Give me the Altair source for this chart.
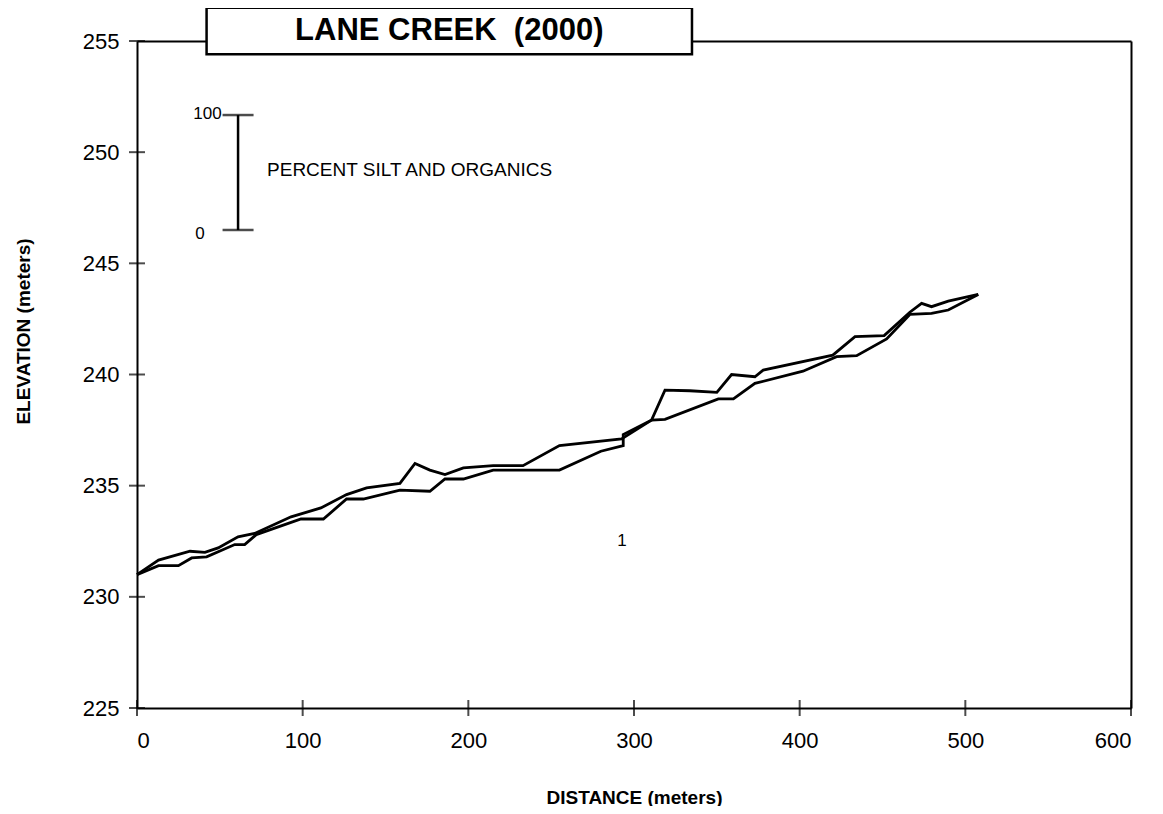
import altair as alt
import pandas as pd

# ---- data ----
upper_x = [0, 13, 32, 41, 49, 61, 71, 93, 111, 126.5, 138.6, 158.7, 167.8, 176.8, 185.9, 197, 215, 233, 255,
           292.5, 310.6, 318.7, 333.7, 350, 358.9, 373, 378, 420, 433.4, 451, 466.5, 473.6, 479.6, 489.7, 507.8]
upper_y = [231.0, 231.65, 232.05, 232.0, 232.2, 232.7, 232.85, 233.6, 234.0, 234.6, 234.9, 235.1, 236.0, 235.7,
           235.5, 235.8, 235.9, 235.9, 236.8, 237.1, 237.95, 239.3, 239.27, 239.2, 240.0, 239.9, 240.2, 240.87,
           241.7, 241.75, 242.8, 243.2, 243.05, 243.3, 243.6]
lower_x = [0, 13, 25, 33, 42, 59, 65, 72, 99, 112.5, 126.5, 136.6, 158.7, 176.8, 185.9, 197, 215, 231, 255, 280,
           293.5, 293.5, 310.6, 318.7, 350.9, 360, 373, 402, 422.3, 434.4, 452.5, 466.5, 479.6, 489.7, 507.8]
lower_y = [231.0, 231.4, 231.4, 231.75, 231.8, 232.35, 232.35, 232.8, 233.5, 233.5, 234.4, 234.4, 234.8, 234.75,
           235.3, 235.3, 235.7, 235.7, 235.7, 236.55, 236.8, 237.3, 237.95, 237.98, 238.9, 238.9, 239.6, 240.15,
           240.8, 240.85, 241.6, 242.7, 242.75, 242.9, 243.6]

x_ticks = [0, 100, 200, 300, 400, 500, 600]
y_ticks = [225, 230, 235, 240, 245, 250, 255]

title_text = "LANE CREEK\u00a0\u00a0(2000)"
title_box_x = [42, 335]
title_box_y = [254.4, 256.5]
title_pos = [188.5, 255.45]

bar_x = 61
bar_y = [246.5, 251.67]
bar_labels = ["0", "100"]
bar_label_x = [38, 42.5]
bar_label_y = [246.3, 251.7]
bar_text = "PERCENT SILT AND ORGANICS"
bar_text_pos = [78.5, 249.2]
note_text = "1"
note_pos = [292.7, 232.5]

FONT = "Liberation Sans"
W, H = 994, 667

rows = []
for i, (x, y) in enumerate(zip(upper_x, upper_y)):
    rows.append({"series": "A", "order": i, "dist": x, "elev": y})
for i, (x, y) in enumerate(zip(lower_x, lower_y)):
    rows.append({"series": "B", "order": i, "dist": x, "elev": y})
df = pd.DataFrame(rows)

xs = alt.Scale(domain=[0, 600], nice=False, zero=False)
ys = alt.Scale(domain=[225, 255], nice=False, zero=False)

x_axis = alt.Axis(values=x_ticks, title="DISTANCE (meters)", domain=True, domainColor="black", domainWidth=2,
                  ticks=False, tickSize=0, grid=False, labelFont=FONT, labelFontSize=22, labelColor="black",
                  labelPadding=22, titleFont=FONT, titleFontSize=19, titleFontWeight="bold", titleColor="black",
                  titleY=80)
y_axis = alt.Axis(values=y_ticks, title="ELEVATION (meters)", domain=True, domainColor="black", domainWidth=2,
                  ticks=False, tickSize=0, grid=False, labelFont=FONT, labelFontSize=22, labelColor="black",
                  labelPadding=18, titleFont=FONT, titleFontSize=19, titleFontWeight="bold", titleColor="black",
                  titleX=-114, titleY=290, titleBaseline="middle")

lines = alt.Chart(df).mark_line(color="black", strokeWidth=2.8, clip=False).encode(
    x=alt.X("dist:Q", scale=xs, axis=x_axis),
    y=alt.Y("elev:Q", scale=ys, axis=y_axis),
    detail="series:N",
    order="order:Q",
)

frame_axis_x = alt.Axis(orient="top", domain=True, domainColor="black", domainWidth=2, ticks=False, labels=False,
                        grid=False, title=None)
frame_axis_y = alt.Axis(orient="right", domain=True, domainColor="black", domainWidth=2, ticks=False,
                        labels=False, grid=False, title=None)

ytick_df = pd.DataFrame({"dist": [x_ticks[0]] * len(y_ticks), "elev": y_ticks})
xtick_df = pd.DataFrame({"dist": x_ticks, "elev": [y_ticks[0]] * len(x_ticks)})

yticks = alt.Chart(ytick_df).mark_tick(orient="horizontal", size=16, thickness=2, color="black", clip=False).encode(
    x=alt.X("dist:Q", scale=xs, axis=frame_axis_x),
    y=alt.Y("elev:Q", scale=ys, axis=frame_axis_y),
)
xticks = alt.Chart(xtick_df).mark_tick(orient="vertical", size=16, thickness=2, color="black", clip=False).encode(
    x=alt.X("dist:Q", scale=xs, axis=None),
    y=alt.Y("elev:Q", scale=ys, axis=None),
)

box_df = pd.DataFrame({"x1": [title_box_x[0]], "x2": [title_box_x[1]], "y1": [title_box_y[0]], "y2": [title_box_y[1]]})
box = alt.Chart(box_df).mark_rect(fill="white", stroke="black", strokeWidth=2.5, clip=False).encode(
    x=alt.X("x1:Q", scale=xs, axis=None), x2="x2:Q", y=alt.Y("y1:Q", scale=ys, axis=None), y2="y2:Q")

title_df = pd.DataFrame({"dist": [title_pos[0]], "elev": [title_pos[1]], "t": [title_text]})
title = alt.Chart(title_df).mark_text(font=FONT, fontSize=31, fontWeight="bold", color="black",
                                      align="center", baseline="middle", clip=False).encode(
    x=alt.X("dist:Q", scale=xs, axis=None), y=alt.Y("elev:Q", scale=ys, axis=None), text="t:N")

bar_df = pd.DataFrame({"dist": [bar_x], "y1": [bar_y[0]], "y2": [bar_y[1]]})
bar = alt.Chart(bar_df).mark_rule(color="black", strokeWidth=2.5).encode(
    x=alt.X("dist:Q", scale=xs, axis=None), y=alt.Y("y1:Q", scale=ys, axis=None), y2="y2:Q")
caps_df = pd.DataFrame({"dist": [bar_x, bar_x], "elev": bar_y})
caps = alt.Chart(caps_df).mark_tick(orient="horizontal", size=31, thickness=2.5, color="black").encode(
    x=alt.X("dist:Q", scale=xs, axis=None), y=alt.Y("elev:Q", scale=ys, axis=None))

blab_df = pd.DataFrame({"dist": bar_label_x, "elev": bar_label_y, "t": bar_labels})
blab = alt.Chart(blab_df).mark_text(font=FONT, fontSize=17, color="black", align="center",
                                    baseline="middle").encode(
    x=alt.X("dist:Q", scale=xs, axis=None), y=alt.Y("elev:Q", scale=ys, axis=None), text="t:N")

bt_df = pd.DataFrame({"dist": [bar_text_pos[0]], "elev": [bar_text_pos[1]], "t": [bar_text]})
btext = alt.Chart(bt_df).mark_text(font=FONT, fontSize=19, color="black", align="left",
                                   baseline="middle").encode(
    x=alt.X("dist:Q", scale=xs, axis=None), y=alt.Y("elev:Q", scale=ys, axis=None), text="t:N")

note_df = pd.DataFrame({"dist": [note_pos[0]], "elev": [note_pos[1]], "t": [note_text]})
note = alt.Chart(note_df).mark_text(font=FONT, fontSize=17, color="black", align="center",
                                    baseline="middle").encode(
    x=alt.X("dist:Q", scale=xs, axis=None), y=alt.Y("elev:Q", scale=ys, axis=None), text="t:N")

chart = alt.layer(yticks, lines, xticks, box, title, bar, caps, blab, btext, note).resolve_axis(
    x="independent", y="independent"
).properties(
    width=W, height=H,
    autosize=alt.AutoSizeParams(type="none"),
    padding={"left": 129, "top": 33, "right": 24, "bottom": 98},
    background="white",
).configure_view(stroke=None)

chart.save("out.html", embed_options={"renderer": "svg", "actions": False})
